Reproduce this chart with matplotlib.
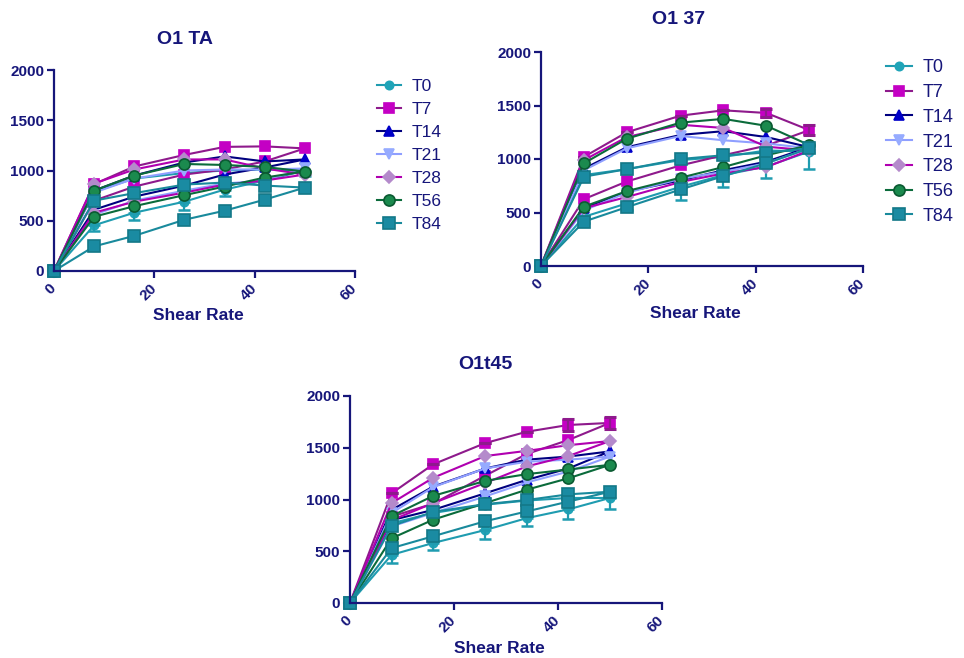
import matplotlib.pyplot as plt
import numpy as np

plt.rcParams['font.family'] = ['Liberation Sans', 'DejaVu Sans']

shear = [0, 8, 16, 26, 34, 42, 50]
series = ['T0', 'T7', 'T14', 'T21', 'T28', 'T56', 'T84']

# O1 TA: upper and lower branch of each loop, order as in series
ta_hi = [[0, 790, 920, 975, 1000, 1010, 1000],
         [0, 865, 1040, 1155, 1235, 1240, 1220],
         [0, 800, 950, 1080, 1140, 1090, 1110],
         [0, 780, 920, 1000, 1010, 1010, 1020],
         [0, 870, 1010, 1110, 1110, 1020, 960],
         [0, 800, 950, 1065, 1055, 1035, 990],
         [0, 700, 775, 860, 880, 850, 830]]
ta_lo = [[0, 455, 580, 690, 810, 900, 1000],
         [0, 700, 840, 960, 1010, 1090, 1220],
         [0, 610, 740, 850, 960, 1030, 1110],
         [0, 560, 700, 800, 870, 900, 1020],
         [0, 580, 690, 780, 860, 900, 960],
         [0, 540, 645, 755, 840, 930, 990],
         [0, 245, 350, 510, 600, 710, 830]]
ta_t0_err = [0, 60, 70, 80, 60, 50, 50]
ta_t7_err = [0, 0, 0, 0, 0, 0, 0]

# O1 37
o37_hi = [[0, 850, 905, 990, 1020, 1080, 1070],
          [0, 1020, 1250, 1405, 1455, 1430, 1270],
          [0, 910, 1110, 1225, 1260, 1205, 1110],
          [0, 895, 1100, 1215, 1175, 1145, 1100],
          [0, 990, 1205, 1320, 1290, 1115, 1080],
          [0, 960, 1190, 1340, 1375, 1310, 1130],
          [0, 835, 905, 1000, 1035, 1060, 1100]]
o37_lo = [[0, 460, 585, 740, 850, 930, 1070],
          [0, 625, 790, 940, 1035, 1125, 1270],
          [0, 540, 695, 800, 895, 975, 1110],
          [0, 520, 685, 815, 880, 960, 1100],
          [0, 540, 645, 785, 865, 925, 1080],
          [0, 555, 700, 825, 925, 1035, 1130],
          [0, 415, 550, 715, 840, 960, 1100]]
o37_t0_err = [0, 60, 60, 125, 110, 110, 160]
o37_t7_err = [0, 0, 0, 0, 0, 40, 50]

# O1t45
t45_hi = [[0, 770, 870, 950, 990, 1015, 1015],
          [0, 1060, 1340, 1545, 1655, 1720, 1740],
          [0, 900, 1125, 1300, 1385, 1415, 1465],
          [0, 870, 1120, 1300, 1365, 1385, 1415],
          [0, 965, 1210, 1420, 1470, 1525, 1565],
          [0, 840, 1035, 1180, 1245, 1290, 1335],
          [0, 745, 880, 955, 995, 1050, 1075]]
t45_lo = [[0, 465, 580, 705, 820, 905, 1015],
          [0, 835, 960, 1230, 1440, 1575, 1740],
          [0, 800, 900, 1060, 1190, 1300, 1465],
          [0, 740, 870, 1030, 1165, 1270, 1415],
          [0, 800, 965, 1160, 1320, 1420, 1565],
          [0, 625, 805, 965, 1095, 1205, 1335],
          [0, 530, 645, 790, 885, 980, 1075]]
t45_t0_err = [0, 80, 65, 90, 80, 95, 105]
t45_t7_err = [0, 0, 0, 0, 0, 60, 60]

navy = '#16167a'
line_colors = ['#1f9cb0', '#8e1a8c', '#00007f', '#8f9fff', '#b000b0', '#0b6b3b', '#198a9c']
face_colors = ['#20a4b8', '#c400c4', '#0000c8', '#96abff', '#b48acb', '#1b8a4e', '#1a8ba2']
edge_colors = ['#20a4b8', '#c400c4', '#0000c8', '#96abff', '#b48acb', '#0b5a32', '#137888']
markers = ['o', 's', '^', 'v', 'D', 'o', 's']
msizes = [6, 7, 6.5, 6.5, 6, 8, 8]


def panel(ax, title, hi, lo, t0_err, t7_err, tx, legend_pos=None, legend_fs=12, spacing=0.5):
    for i, name in enumerate(series):
        x = shear + shear[::-1][1:]
        y = hi[i] + lo[i][::-1][1:]
        ax.plot(x, y, color=line_colors[i], lw=1.5, marker=markers[i], ms=msizes[i],
                mfc=face_colors[i], mec=edge_colors[i], mew=1.2, label=name, clip_on=False)
        if i == 0:
            ax.errorbar(shear, lo[0], yerr=[t0_err, np.zeros(len(shear))], fmt='none',
                        ecolor=line_colors[0], elinewidth=1.6, capsize=4.5, capthick=1.8)
        if i == 1 and max(t7_err) > 0:
            ax.errorbar(shear, hi[1], yerr=t7_err, fmt='none', ecolor='#8e1a8c',
                        elinewidth=1.6, capsize=4.5, capthick=2.2)
    ax.set_xlim(0, 60)
    ax.set_ylim(0, 2000)
    ax.set_xticks([0, 20, 40, 60])
    ax.set_yticks([0, 500, 1000, 1500, 2000])
    for s in ['top', 'right']:
        ax.spines[s].set_visible(False)
    for s in ['left', 'bottom']:
        ax.spines[s].set_color(navy)
        ax.spines[s].set_linewidth(1.6)
    ax.tick_params(colors=navy, width=1.6, length=5, labelsize=11)
    ax.set_xticklabels(['0', '20', '40', '60'], rotation=45, ha='right', va='center',
                       rotation_mode='anchor', fontweight='bold')
    for lab in ax.get_yticklabels():
        lab.set_fontweight('bold')
    ax.tick_params(axis='x', pad=6)
    ax.tick_params(axis='y', pad=2)
    ax.text(tx, 1.15, title, transform=ax.transAxes, ha='center', va='center',
            fontsize=14, fontweight='bold', color=navy)
    ax.text(0.48, -0.22, 'Shear Rate', transform=ax.transAxes, ha='center', va='center',
            fontsize=12.5, fontweight='bold', color=navy)
    if legend_pos is not None:
        leg = ax.legend(loc='upper left', bbox_to_anchor=legend_pos, frameon=False,
                        fontsize=legend_fs, handlelength=1.4, handletextpad=0.6,
                        labelspacing=spacing, borderaxespad=0)
        for t in leg.get_texts():
            t.set_color(navy)


fig = plt.figure(figsize=(9.64, 6.58), dpi=100, facecolor='white')
W, H = 964, 658
ax1 = fig.add_axes([54 / W, 1 - 271 / H, 301 / W, 201 / H])
ax2 = fig.add_axes([541 / W, 1 - 266 / H, 322 / W, 214 / H])
ax3 = fig.add_axes([350 / W, 1 - 603 / H, 312 / W, 207 / H])

panel(ax1, 'O1 TA', ta_hi, ta_lo, ta_t0_err, ta_t7_err, 0.435,
      legend_pos=(1.05, 0.99), legend_fs=12.5, spacing=0.45)
panel(ax2, 'O1 37', o37_hi, o37_lo, o37_t0_err, o37_t7_err, 0.426,
      legend_pos=(1.05, 1.0), legend_fs=13, spacing=0.43)
panel(ax3, 'O1t45', t45_hi, t45_lo, t45_t0_err, t45_t7_err, 0.433)

fig.savefig('out.png', dpi=100, facecolor='white')
